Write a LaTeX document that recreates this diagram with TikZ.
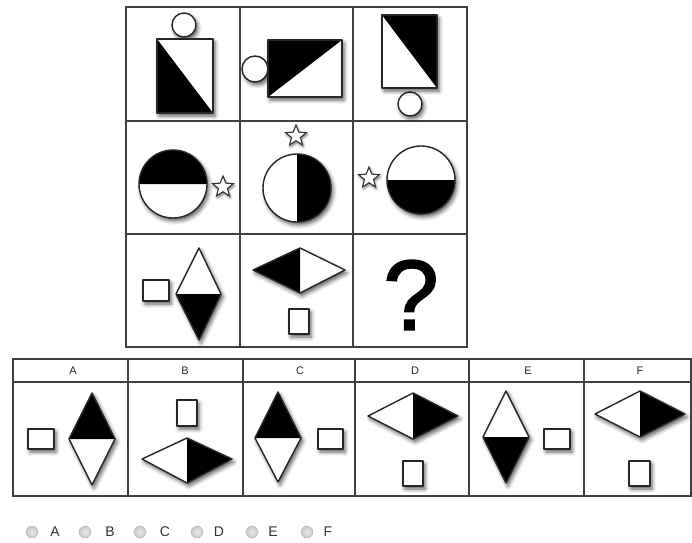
\documentclass[tikz,border=0pt]{standalone}
\usepackage{fontspec}
\setmainfont{Liberation Sans}
\newfontfamily\queryfont{Liberation Sans}[FakeBold=1.6]
\usetikzlibrary{shapes.geometric, shadows.blur}

\tikzset{
    % grid and table lines
    cell line/.style={
        draw=black!75,
        line width=1.2pt
    },
    % white body with a soft shadow
    figure/.style={
        fill=white,
        blur shadow={shadow xshift=2pt, shadow yshift=-3pt,
            shadow blur radius=4pt, shadow opacity=65}
    },
    outline/.style={
        draw=black!85,
        line width=1.4pt,
        line join=round
    },
    dark part/.style={
        fill=black
    },
    small star/.style={
        star,
        star points=5,
        star point ratio=2.3,
        minimum size=22pt,
        inner sep=0pt,
        draw=black!80,
        line width=1.1pt,
        fill=white,
        blur shadow={shadow xshift=1pt, shadow yshift=-2pt,
            shadow blur radius=2.5pt, shadow opacity=55}
    },
    head label/.style={
        font=\fontsize{11}{13}\selectfont,
        text=black!85
    },
    radio/.style={
        circle,
        draw=black!30,
        inner color=black!8,
        outer color=black!22,
        minimum size=12pt,
        inner sep=0pt
    },
    radio label/.style={
        font=\fontsize{14}{16}\selectfont,
        text=black!80
    }
}

% body with shadow, black half, outline on top
\newcommand{\figpiece}[2]{%
    \path[figure] #1;
    \fill[dark part] #2;
    \path[outline] #1;
}

\begin{document}
\begin{tikzpicture}[x=1pt, y=-1pt]
    \useasboundingbox (0,0) rectangle (692,542);

    % Puzzle grid
    \path[cell line] (126,7) rectangle (467,347);
    \foreach \x in {240,353} {
        \path[cell line] (\x,7) -- (\x,347);
    }
    \foreach \y in {121,234} {
        \path[cell line] (126,\y) -- (467,\y);
    }

    % Row 1: rectangles with circles
    \figpiece{(184,25) circle (12)}{(184,25) circle (0)}
    \figpiece{(157,39) rectangle (213,113)}{(157,39) -- (213,113) -- (157,113) -- cycle}

    \figpiece{(255,69) circle (13)}{(255,69) circle (0)}
    \figpiece{(268,40) rectangle (342,97)}{(268,40) -- (342,40) -- (268,97) -- cycle}

    \figpiece{(410,104) circle (12)}{(410,104) circle (0)}
    \figpiece{(382,15) rectangle (437,88)}{(382,15) -- (437,15) -- (437,88) -- cycle}

    % Row 2: split circles with stars
    \figpiece{(173,184) circle (34)}{(139,184) arc[start angle=180, end angle=360, radius=34] -- cycle}
    \node[small star] (star one) at (223,187) {};

    \figpiece{(297,188) circle (34)}{(297,154) arc[start angle=-90, end angle=90, radius=34] -- cycle}
    \node[small star] (star two) at (296,136) {};

    \figpiece{(421,180) circle (34)}{(387,180) arc[start angle=180, end angle=0, radius=34] -- cycle}
    \node[small star] (star three) at (369,178) {};

    % Row 3: diamonds with small boxes
    \figpiece{(143,280) rectangle (169,301)}{(143,280) circle (0)}
    \figpiece{(199,248) -- (221,294) -- (199,340) -- (176,294) -- cycle}{(176,294) -- (221,294) -- (199,340) -- cycle}

    \figpiece{(253,270) -- (300,248) -- (345,270) -- (300,293) -- cycle}{(253,270) -- (300,248) -- (300,293) -- cycle}
    \figpiece{(289,309) rectangle (309,334)}{(289,309) circle (0)}

    \node[font=\fontsize{100}{100}\queryfont] (query) at (411,295) {?};

    % Answer table
    \path[cell line] (13,359) rectangle (691,496);
    \path[cell line] (13,382) -- (691,382);
    \foreach \x in {128,243,355,469,584} {
        \path[cell line] (\x,359) -- (\x,496);
    }
    \foreach \l/\x in {A/73,B/185,C/300,D/415,E/528,F/640} {
        \node[head label] (head \l) at (\x,371) {\l};
    }

    % A
    \figpiece{(28,429) rectangle (54,449)}{(28,429) circle (0)}
    \figpiece{(92,393) -- (115,439) -- (92,485) -- (69,439) -- cycle}{(69,439) -- (92,393) -- (115,439) -- cycle}
    % B
    \figpiece{(177,400) rectangle (197,426)}{(177,400) circle (0)}
    \figpiece{(142,459) -- (187,438) -- (232,459) -- (187,483) -- cycle}{(187,438) -- (232,459) -- (187,483) -- cycle}
    % C
    \figpiece{(278,392) -- (301,438) -- (278,482) -- (255,438) -- cycle}{(255,438) -- (278,392) -- (301,438) -- cycle}
    \figpiece{(318,429) rectangle (343,449)}{(318,429) circle (0)}
    % D
    \figpiece{(368,416) -- (413,393) -- (458,416) -- (413,439) -- cycle}{(413,393) -- (458,416) -- (413,439) -- cycle}
    \figpiece{(403,461) rectangle (423,486)}{(403,461) circle (0)}
    % E
    \figpiece{(506,391) -- (529,437) -- (506,483) -- (483,437) -- cycle}{(483,437) -- (529,437) -- (506,483) -- cycle}
    \figpiece{(544,429) rectangle (570,449)}{(544,429) circle (0)}
    % F
    \figpiece{(595,414) -- (640,391) -- (685,414) -- (640,437) -- cycle}{(640,391) -- (685,414) -- (640,437) -- cycle}
    \figpiece{(629,461) rectangle (650,486)}{(629,461) circle (0)}

    % Radio buttons
    \foreach \l/\x/\t in {A/32/55,B/85/110,C/140/165,D/197/219,E/252/273,F/307/328} {
        \node[radio] (radio \l) at (\x,532) {};
        \node[radio label] (choice \l) at (\t,532) {\l};
    }
\end{tikzpicture}
\end{document}
